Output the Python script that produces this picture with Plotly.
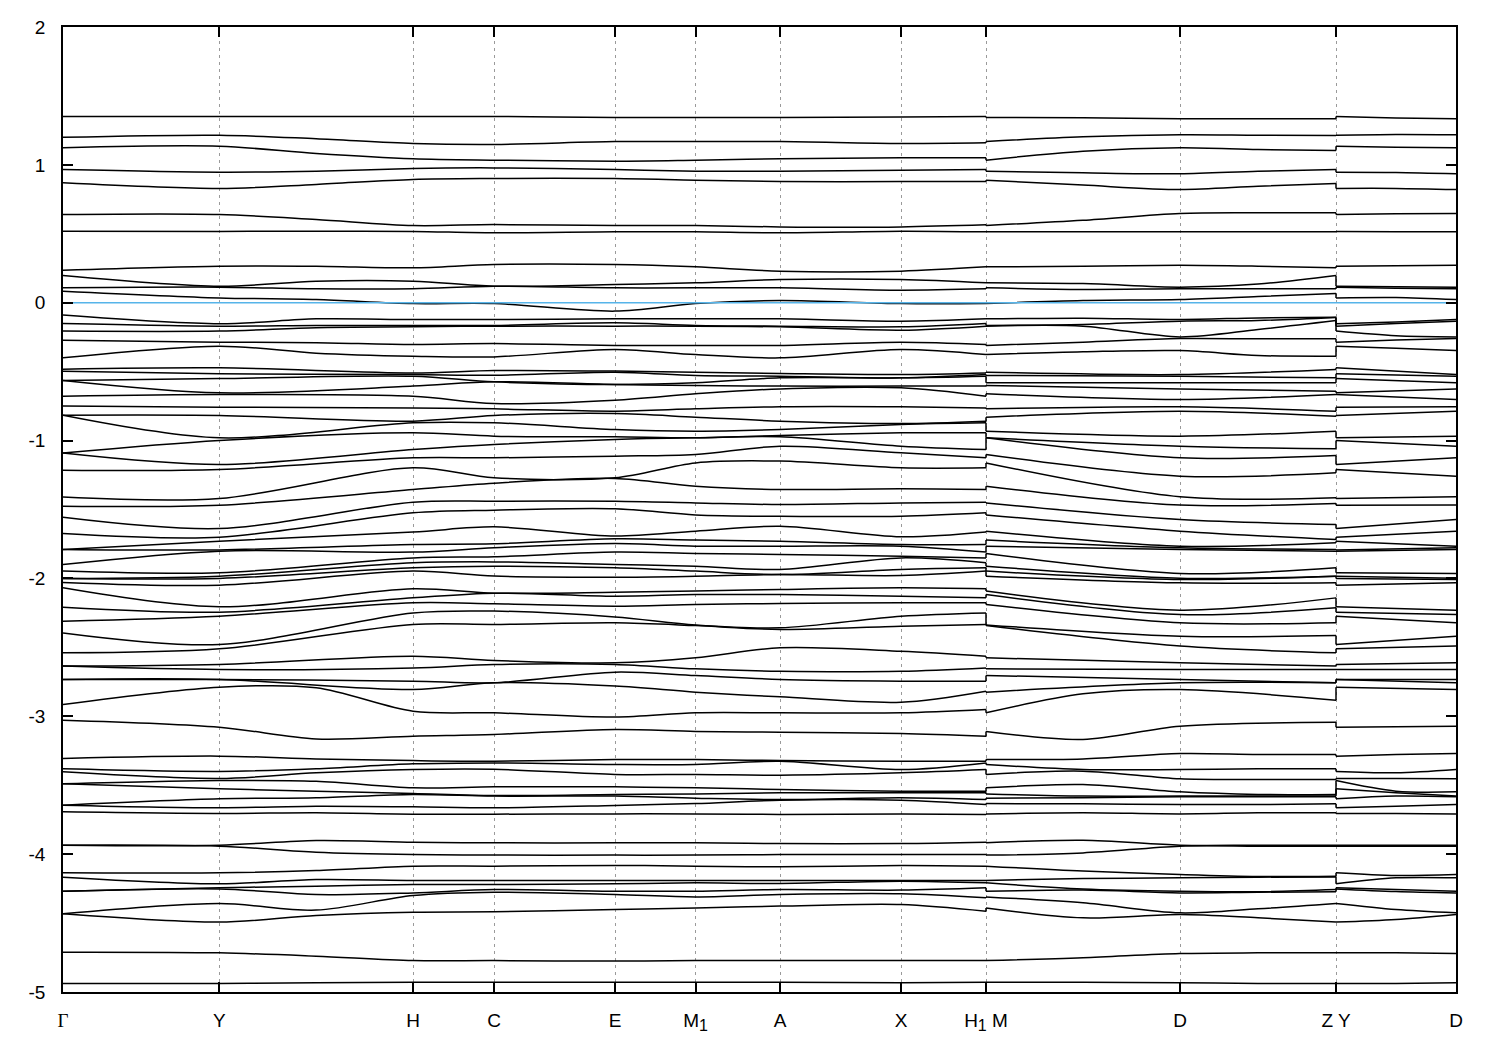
import plotly.graph_objects as go

# ---------------- k-path (tick) data ----------------
K_LABELS = ["<span style=\"font-family:'Liberation Serif',serif\">Γ</span>", "Y", "H", "C", "E",
            "M<sub><span style='font-size:16px'>1</span></sub>", "A", "X",
            "H<sub><span style='font-size:16px'>1</span></sub> M", "D", "Z Y", "D"]
K_POS = [0, 156.3, 350, 431, 552, 632.5, 717, 838, 923, 1117, 1273, 1393]

Y_TICKS = [2, 1, 0, -1, -2, -3, -4, -5]
Y_TICK_TEXT = ["2", "1", "0", "-1", "-2", "-3", "-4", "-5"]

# ---------------- band energies (eV), sorted high -> low at each k column ----------------
GAMMA = [1.351, 1.200, 1.124, 0.966, 0.870, 0.640, 0.519,
         0.236, 0.198, 0.108, 0.084, -0.090, -0.151, -0.206, -0.272, -0.400,
         -0.482, -0.497, -0.564, -0.564, -0.678, -0.750, -0.816, -0.816, -1.091, -1.091, -1.215,
         -1.410, -1.476, -1.556, -1.674, -1.790, -1.790, -1.899, -1.947, -2.000, -2.000, -2.029,
         -2.068, -2.209, -2.310, -2.395, -2.540, -2.636, -2.636, -2.733, -2.733, -2.914, -3.028,
         -3.306, -3.381, -3.403, -3.490, -3.490, -3.645, -3.645, -3.693,
         -3.935, -3.935, -4.135, -4.167, -4.269, -4.269, -4.433, -4.433,
         -4.711, -4.938]

Y_PT = [1.351, 1.215, 1.135, 0.947, 0.829, 0.640, 0.517,
        0.265, 0.120, 0.113, 0.035, -0.153, -0.170, -0.206, -0.286, -0.315,
        -0.472, -0.516, -0.550, -0.654, -0.666, -0.758, -0.818, -0.980, -1.000, -1.174, -1.210,
        -1.420, -1.469, -1.638, -1.701, -1.730, -1.793, -1.802, -1.959, -1.984, -2.000, -2.049,
        -2.206, -2.245, -2.274, -2.479, -2.511, -2.624, -2.661, -2.733, -2.733, -2.789, -3.079,
        -3.289, -3.400, -3.451, -3.466, -3.526, -3.599, -3.664, -3.705,
        -3.935, -3.942, -4.135, -4.215, -4.244, -4.252, -4.358, -4.493,
        -4.716, -4.938]

MID_YH = ([1.351, 1.189, 1.082, 0.954, 0.858, 0.604, 0.519,
           0.265, 0.156, 0.101, 0.023, -0.117, -0.165, -0.181, -0.290, -0.366]
          + [None] * 31 + [-2.793, -3.164,
          -3.309, -3.381, -3.410, -3.471, -3.543, -3.591, -3.652, -3.700,
          -3.901, -3.986, -4.119, -4.184, -4.232, -4.293, -4.406, -4.445,
          -4.740, -4.933])

H_PT = [1.351, 1.155, 1.044, 0.974, 0.894, 0.560, 0.517,
        0.253, 0.156, 0.101, -0.006, -0.122, -0.165, -0.175, -0.303, -0.388,
        -0.509, -0.521, -0.533, -0.605, -0.678, -0.763, -0.859, -0.871, -0.944, -1.065, -1.125,
        -1.198, -1.355, -1.447, -1.524, -1.664, -1.754, -1.809, -1.851, -1.887, -1.923, -1.947,
        -2.075, -2.141, -2.177, -2.250, -2.334, -2.564, -2.649, -2.745, -2.806, -2.963, -3.144,
        -3.321, -3.345, -3.386, -3.519, -3.560, -3.567, -3.657, -3.710,
        -3.913, -4.003, -4.087, -4.191, -4.220, -4.281, -4.300, -4.421,
        -4.772, -4.929]

C_PT = [1.351, 1.148, 1.034, 0.978, 0.901, 0.567, 0.507,
        0.277, 0.120, 0.120, -0.006, -0.122, -0.165, -0.170, -0.296, -0.393,
        -0.492, -0.526, -0.574, -0.574, -0.731, -0.770, -0.818, -0.871, -0.968, -1.028, -1.125,
        -1.270, -1.309, -1.440, -1.505, -1.626, -1.749, -1.778, -1.843, -1.880, -1.911, -1.983,
        -2.107, -2.107, -2.184, -2.237, -2.334, -2.595, -2.624, -2.757, -2.757, -2.975, -3.132,
        -3.326, -3.338, -3.384, -3.512, -3.575, -3.579, -3.664, -3.710,
        -3.918, -4.007, -4.087, -4.191, -4.220, -4.257, -4.276, -4.418,
        -4.772, -4.929]

E_PT = [1.344, 1.169, 1.027, 0.966, 0.901, 0.560, 0.514,
        0.277, 0.132, 0.108, -0.061, -0.117, -0.146, -0.170, -0.310, -0.339,
        -0.496, -0.504, -0.593, -0.593, -0.707, -0.787, -0.804, -0.920, -0.973, -0.992, -1.113,
        -1.270, -1.275, -1.440, -1.495, -1.693, -1.713, -1.747, -1.809, -1.899, -1.923, -1.991,
        -2.100, -2.129, -2.201, -2.279, -2.322, -2.612, -2.624, -2.680, -2.781, -3.006, -3.096,
        -3.314, -3.350, -3.422, -3.512, -3.567, -3.579, -3.647, -3.708,
        -3.918, -4.007, -4.082, -4.191, -4.215, -4.269, -4.293, -4.402,
        -4.776, -4.929]

M1_PT = [1.344, 1.169, 1.034, 0.954, 0.889, 0.560, 0.514,
         0.260, 0.144, 0.108, -0.006, -0.117, -0.165, -0.170, -0.310, -0.376,
         -0.504, -0.528, -0.581, -0.600, -0.661, -0.770, -0.830, -0.932, -0.980, -0.980, -1.101,
         -1.162, -1.331, -1.452, -1.539, -1.657, -1.722, -1.766, -1.819, -1.911, -1.947, -1.984,
         -2.092, -2.117, -2.189, -2.337, -2.342, -2.576, -2.656, -2.704, -2.825, -2.975, -3.110,
         -3.314, -3.350, -3.422, -3.519, -3.563, -3.594, -3.633, -3.708,
         -3.918, -4.007, -4.087, -4.191, -4.208, -4.269, -4.310, -4.390,
         -4.772, -4.929]

A_PT = [1.344, 1.169, 1.044, 0.954, 0.879, 0.550, 0.507,
        0.229, 0.168, 0.108, 0.016, -0.117, -0.170, -0.175, -0.310, -0.400,
        -0.513, -0.533, -0.545, -0.605, -0.625, -0.755, -0.859, -0.920, -0.963, -0.973, -1.041,
        -1.149, -1.355, -1.464, -1.549, -1.621, -1.730, -1.766, -1.826, -1.935, -1.972, -1.972,
        -2.080, -2.117, -2.182, -2.358, -2.370, -2.503, -2.673, -2.733, -2.859, -2.975, -3.115,
        -3.321, -3.326, -3.427, -3.531, -3.555, -3.604, -3.609, -3.712,
        -3.923, -4.003, -4.092, -4.191, -4.213, -4.257, -4.293, -4.377,
        -4.772, -4.929]

X_PT = [1.348, 1.155, 1.052, 0.960, 0.879, 0.550, 0.519,
        0.229, 0.168, 0.091, -0.006, -0.134, -0.175, -0.199, -0.286, -0.339,
        -0.521, -0.545, -0.545, -0.605, -0.617, -0.755, -0.876, -0.883, -0.944, -1.041, -1.089,
        -1.198, -1.350, -1.452, -1.549, -1.698, -1.754, -1.766, -1.839, -1.851, -1.935, -1.979,
        -2.068, -2.129, -2.177, -2.274, -2.346, -2.528, -2.673, -2.745, -2.898, -2.975, -3.125,
        -3.326, -3.386, -3.410, -3.543, -3.555, -3.591, -3.609, -3.708,
        -3.923, -4.003, -4.082, -4.191, -4.196, -4.261, -4.288, -4.365,
        -4.772, -4.933]

H1_PT = [1.351, 1.160, 1.052, 0.966, 0.879, 0.565, 0.514,
         0.260, 0.144, 0.101, -0.006, -0.117, -0.151, -0.170, -0.303, -0.376,
         -0.509, -0.521, -0.533, -0.605, -0.678, -0.763, -0.859, -0.871, -0.944, -1.065, -1.125,
         -1.198, -1.355, -1.447, -1.524, -1.664, -1.754, -1.809, -1.851, -1.887, -1.923, -1.947,
         -2.075, -2.141, -2.177, -2.250, -2.334, -2.564, -2.649, -2.745, -2.818, -2.951, -3.144,
         -3.326, -3.338, -3.386, -3.543, -3.555, -3.604, -3.640, -3.712,
         -3.913, -4.003, -4.087, -4.191, -4.208, -4.244, -4.317, -4.414,
         -4.772, -4.929]

M_PT = M1_PT  # M and M1 are equivalent points

MID_MD = ([1.342, 1.203, 1.099, 0.942, 0.853, 0.598, 0.514,
           0.265, 0.139, 0.096, 0.016, -0.112, -0.158, -0.170, -0.286, -0.356]
          + [None] * 31 + [-2.837, -3.168,
          -3.309, -3.386, -3.398, -3.495, -3.579, -3.591, -3.635, -3.700,
          -3.899, -3.991, -4.123, -4.177, -4.252, -4.261, -4.353, -4.462,
          -4.752, -4.929])

D_PT = [1.334, 1.218, 1.124, 0.935, 0.821, 0.647, 0.514,
        0.272, 0.113, 0.101, 0.023, -0.122, -0.134, -0.248, -0.260, -0.347,
        -0.521, -0.533, -0.581, -0.625, -0.702, -0.755, -0.787, -0.968, -1.041, -1.125, -1.258,
        -1.408, -1.468, -1.573, -1.657, -1.766, -1.778, -1.790, -1.964, -1.998, -2.008, -2.032,
        -2.230, -2.262, -2.322, -2.419, -2.491, -2.612, -2.661, -2.733, -2.757, -2.806, -3.072,
        -3.270, -3.386, -3.454, -3.548, -3.579, -3.584, -3.640, -3.708,
        -3.935, -3.942, -4.148, -4.172, -4.269, -4.281, -4.426, -4.438,
        -4.721, -4.933]

MID_DZ = ([1.334, 1.215, 1.111, 0.954, 0.845, 0.652, 0.514,
           0.265, 0.135, 0.101, 0.045, -0.110, -0.129, -0.194, -0.262, -0.383]
          + [None] * 33 + [
          -3.277, -3.381, -3.459, -3.567, -3.579, -3.584, -3.640, -3.700,
          -3.935, -3.942, -4.162, -4.167, -4.273, -4.276, -4.397, -4.462,
          -4.716, -4.938])

Z_PT = [1.334, 1.213, 1.104, 0.966, 0.865, 0.652, 0.514,
        0.253, 0.198, 0.101, 0.067, -0.105, -0.107, -0.129, -0.262, -0.388,
        -0.484, -0.545, -0.581, -0.642, -0.666, -0.787, -0.823, -0.932, -1.060, -1.108, -1.234,
        -1.415, -1.456, -1.609, -1.718, -1.742, -1.790, -1.802, -1.923, -1.984, -1.984, -2.032,
        -2.141, -2.213, -2.322, -2.414, -2.540, -2.636, -2.661, -2.757, -2.757, -2.883, -3.043,
        -3.277, -3.381, -3.459, -3.567, -3.579, -3.584, -3.635, -3.700,
        -3.935, -3.942, -4.160, -4.165, -4.257, -4.273, -4.358, -4.493,
        -4.716, -4.938]

Y2_PT = Y_PT  # same k-point as Y

MID_YD = ([1.340, 1.220, 1.128, 0.945, 0.829, 0.645, 0.514,
           0.268, 0.115, 0.105, 0.038, -0.140, -0.150, -0.240, -0.270, -0.330]
          + [None] * 33 + [
          -3.277, -3.410, -3.451, -3.543, -3.555, -3.579, -3.652, -3.705,
          -3.935, -3.942, -4.155, -4.172, -4.257, -4.271, -4.402, -4.474,
          -4.716, -4.938])

D2_PT = D_PT  # same k-point as D

# ---------------- path segments (k-position, column) ----------------
SEGMENTS = [
    [(K_POS[0], GAMMA), (K_POS[1], Y_PT), ((K_POS[1] + K_POS[2]) / 2, MID_YH), (K_POS[2], H_PT),
     (K_POS[3], C_PT), (K_POS[4], E_PT), (K_POS[5], M1_PT), (K_POS[6], A_PT), (K_POS[7], X_PT),
     (K_POS[8], H1_PT)],
    [(K_POS[8], M_PT), ((K_POS[8] + K_POS[9]) / 2, MID_MD), (K_POS[9], D_PT),
     ((K_POS[9] + K_POS[10]) / 2, MID_DZ), (K_POS[10], Z_PT)],
    [(K_POS[10], Y2_PT), ((K_POS[10] + K_POS[11]) / 2, MID_YD), (K_POS[11], D2_PT)],
]
JUMPS = [(K_POS[8], H1_PT, M_PT), (K_POS[10], Z_PT, Y2_PT)]

NB = len(GAMMA)
for seg in SEGMENTS:
    for _, col in seg:
        assert len(col) == NB, len(col)

fig = go.Figure()

for i in range(NB):
    xs, ys = [], []
    for seg in SEGMENTS:
        for kx, col in seg:
            v = col[i]
            if v is not None:
                xs.append(kx)
                ys.append(v)
        xs.append(None)
        ys.append(None)
    fig.add_trace(go.Scatter(x=xs, y=ys, mode="lines",
                             line=dict(color="black", width=1.5, shape="spline", smoothing=0.9),
                             hoverinfo="skip", showlegend=False, connectgaps=False))

# vertical steps at the discontinuities
jx, jy = [], []
for kx, c1, c2 in JUMPS:
    for i in range(NB):
        jx += [kx, kx, None]
        jy += [c1[i], c2[i], None]
fig.add_trace(go.Scatter(x=jx, y=jy, mode="lines", line=dict(color="black", width=1.5),
                         hoverinfo="skip", showlegend=False))

# Fermi level
fig.add_trace(go.Scatter(x=[K_POS[0], K_POS[-1]], y=[0, 0], mode="lines",
                         line=dict(color="#56B4E9", width=1.6), hoverinfo="skip", showlegend=False))

FONT = "'Liberation Sans', Arial, sans-serif"
fig.update_layout(
    width=1500, height=1050, autosize=False,
    margin=dict(l=63, r=44, t=27, b=58, pad=0),
    paper_bgcolor="white", plot_bgcolor="white",
    font=dict(family=FONT, size=19, color="black"),
    showlegend=False,
    xaxis=dict(range=[K_POS[0], K_POS[-1]], tickmode="array", tickvals=K_POS, ticktext=K_LABELS,
               ticks="inside", ticklen=10, tickwidth=1.5, tickcolor="black",
               showline=True, linecolor="black", linewidth=1.5, mirror="allticks",
               showgrid=True, gridcolor="#9a9a9a", gridwidth=1, griddash="3px,4px",
               zeroline=False, ticklabelstandoff=10,
               tickfont=dict(family=FONT, size=19, color="black")),
    yaxis=dict(range=[-5, 2], tickmode="array", tickvals=Y_TICKS, ticktext=Y_TICK_TEXT,
               ticks="inside", ticklen=10, tickwidth=1.5, tickcolor="black",
               showline=True, linecolor="black", linewidth=1.5, mirror="allticks",
               showgrid=False, zeroline=False, ticklabelstandoff=12,
               tickfont=dict(family=FONT, size=19, color="black")),
)

fig.write_html("out.html", config={"displayModeBar": False},
               post_script="document.body.style.margin='0';document.body.style.overflow='hidden';")
